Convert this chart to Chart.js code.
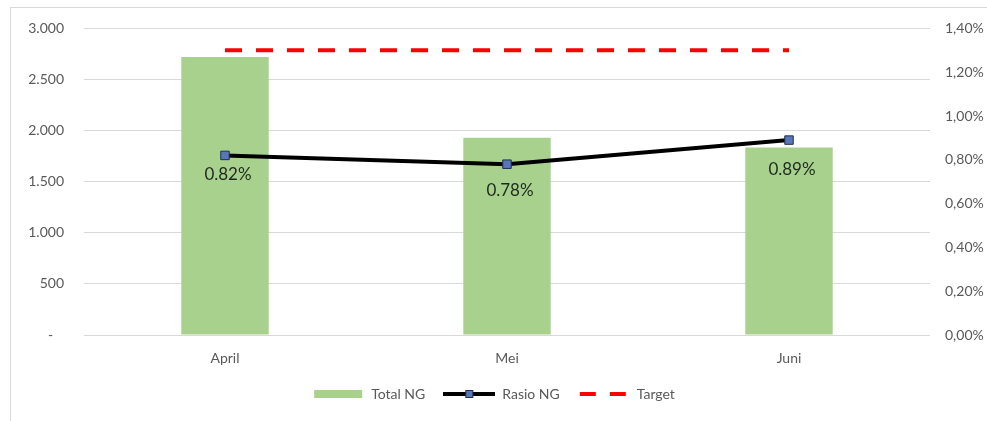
<!DOCTYPE html>
<html lang="id">
<head>
  <meta charset="UTF-8">
  <title>Total NG dan Rasio NG</title>
  <style>
    html, body { margin: 0; padding: 0; background: #fff; overflow: hidden; }
    #frame { position: absolute; left: 10px; top: 7px; width: 1100px; height: 600px; border: 1px solid #d9d9d9; }
    #myChart { position: absolute; left: 0; top: 0; }
  </style>
</head>
<body>
  <div id="frame"></div>
  <canvas id="myChart" width="987" height="421"></canvas>

  <script src="https://cdn.jsdelivr.net/npm/chart.js"></script>
  <script>
const months = ['April', 'Mei', 'Juni'];
const totalNG = [2720, 1930, 1835];     // batang, sumbu kiri
const rasioNG = [0.82, 0.78, 0.89];     // %, sumbu kanan
const target = [1.3, 1.3, 1.3];         // %, sumbu kanan
const leftTicks = [0, 500, 1000, 1500, 2000, 2500, 3000];
const rightTicks = [0, 0.2, 0.4, 0.6, 0.8, 1.0, 1.2, 1.4];

const GREEN = '#a9d18e';
const FONT = 'Lato, "Open Sans", sans-serif';

// gambar kecil untuk legend, gaya Excel
function legendIcon(kind) {
  const c = document.createElement('canvas');
  c.width = 52; c.height = 12;
  const g = c.getContext('2d');
  if (kind === 'bar') {
    g.fillStyle = GREEN;
    g.fillRect(2, 2, 48, 8);
  } else if (kind === 'line') {
    g.strokeStyle = '#000'; g.lineWidth = 4;
    g.beginPath(); g.moveTo(0, 6); g.lineTo(52, 6); g.stroke();
    g.fillStyle = '#5876b8'; g.strokeStyle = '#1f2f4f'; g.lineWidth = 1;
    g.fillRect(22, 2, 8, 8); g.strokeRect(22.5, 2.5, 7, 7);
  } else {
    g.strokeStyle = '#ff0000'; g.lineWidth = 4;
    g.setLineDash([16, 14]);
    g.beginPath(); g.moveTo(2, 6); g.lineTo(52, 6); g.stroke();
  }
  return c;
}

const labelOffsets = [19, 26, 29];

const pointLabels = {
  id: 'pointLabels',
  afterDatasetsDraw(chart) {
    const ctx = chart.ctx;
    const meta = chart.getDatasetMeta(1);
    ctx.save();
    ctx.font = '17px ' + FONT;
    ctx.fillStyle = '#1e2a1e';
    ctx.textAlign = 'center';
    ctx.textBaseline = 'middle';
    meta.data.forEach((pt, i) => {
      ctx.fillText(rasioNG[i].toFixed(2) + '%', pt.x + 3, pt.y + labelOffsets[i]);
    });
    ctx.restore();
  }
};

const ctx = document.getElementById('myChart').getContext('2d');
const myChart = new Chart(ctx, {
  type: 'bar',
  data: {
    labels: months,
    datasets: [
      {
        type: 'bar',
        label: 'Total NG',
        data: totalNG,
        backgroundColor: GREEN,
        yAxisID: 'y',
        barPercentage: 0.31,
        categoryPercentage: 1,
        order: 2
      },
      {
        type: 'line',
        label: 'Rasio NG',
        data: rasioNG,
        borderColor: '#000',
        borderWidth: 4,
        pointStyle: 'rect',
        pointRadius: 6,
        pointBackgroundColor: '#5876b8',
        pointBorderColor: '#1f2f4f',
        pointBorderWidth: 1,
        tension: 0,
        yAxisID: 'y1',
        order: 0
      },
      {
        type: 'line',
        label: 'Target',
        data: target,
        borderColor: '#ff0000',
        borderWidth: 4,
        borderDash: [17, 14],
        pointRadius: 0,
        yAxisID: 'y1',
        order: 1
      }
    ]
  },
  options: {
    responsive: false,
    animation: false,
    layout: { padding: { top: 28, bottom: 10 } },
    scales: {
      x: {
        offset: true,
        grid: { display: false },
        border: { display: false },
        ticks: { color: '#595959', font: { family: FONT, size: 14 }, padding: 7 },
        afterFit: (s) => { s.height = 34; }
      },
      y: {
        position: 'left',
        min: 0, max: 3000,
        afterBuildTicks: (s) => { s.ticks = leftTicks.map(v => ({ value: v })); },
        grid: { color: '#d9d9d9', drawTicks: false },
        border: { display: false },
        ticks: {
          color: '#595959', font: { family: FONT, size: 14 }, padding: 20,
          callback: (v) => v === 0 ? '-   ' : v.toLocaleString('de-DE')
        },
        afterFit: (s) => { s.width = 84; }
      },
      y1: {
        position: 'right',
        min: 0, max: 1.4,
        afterBuildTicks: (s) => { s.ticks = rightTicks.map(v => ({ value: v })); },
        grid: { drawOnChartArea: false, drawTicks: false },
        border: { display: false },
        ticks: {
          color: '#595959', font: { family: FONT, size: 14 }, padding: 15,
          callback: (v) => v.toFixed(2).replace('.', ',') + '%'
        },
        afterFit: (s) => { s.width = 57; }
      }
    },
    plugins: {
      tooltip: { enabled: false },
      legend: {
        position: 'bottom',
        labels: {
          usePointStyle: true,
          pointStyleWidth: 52,
          color: '#595959',
          font: { family: FONT, size: 14 },
          padding: 18,
          sort: (a, b) => a.datasetIndex - b.datasetIndex,
          generateLabels: (chart) => {
            const base = Chart.defaults.plugins.legend.labels.generateLabels(chart);
            const kinds = ['bar', 'line', 'dash'];
            return base.map(item => Object.assign(item, { pointStyle: legendIcon(kinds[item.datasetIndex]) }));
          }
        }
      }
    }
  },
  plugins: [pointLabels]
});
  </script>
</body>
</html>
